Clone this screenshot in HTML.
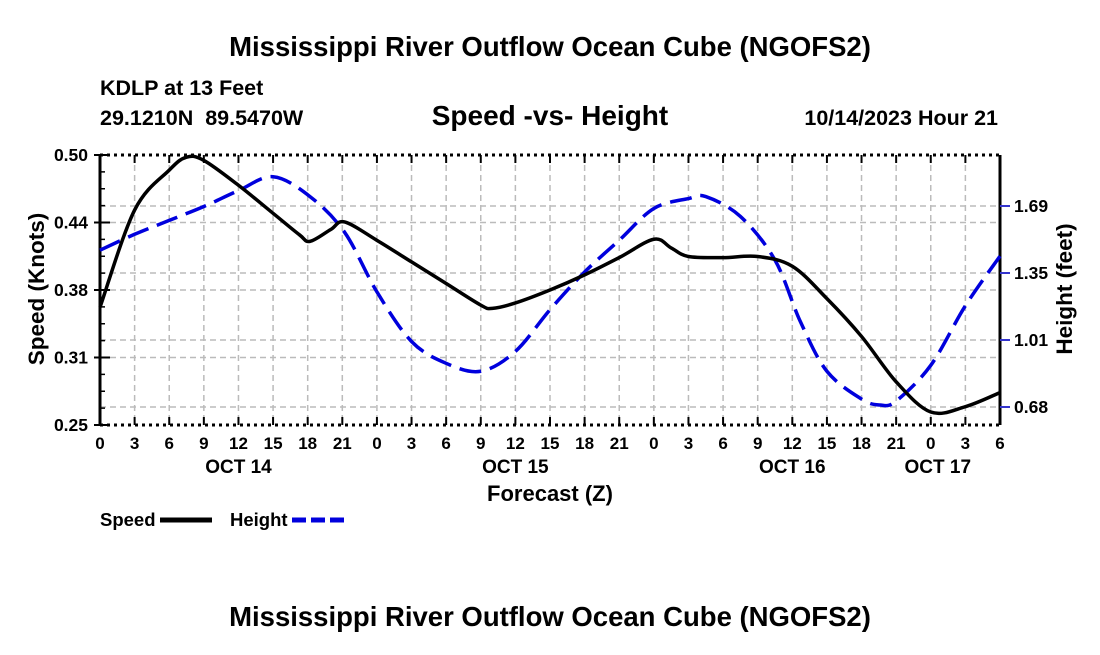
<!DOCTYPE html>
<html><head><meta charset="utf-8"><style>
body{margin:0;background:#fff;}
svg text{font-family:"Liberation Sans",Arial,sans-serif;font-weight:bold;fill:#000;white-space:pre;}
</style></head><body>
<svg id="c" width="1100" height="650" viewBox="0 0 1100 650">
<text x="550" y="56" text-anchor="middle" font-size="27.5">Mississippi River Outflow Ocean Cube (NGOFS2)</text>
<text x="100" y="95" font-size="21.5">KDLP at 13 Feet</text>
<text x="100" y="125" font-size="21.5" xml:space="preserve">29.1210N  89.5470W</text>
<text x="550" y="125" text-anchor="middle" font-size="28">Speed -vs- Height</text>
<text x="998" y="125" text-anchor="end" font-size="21.5">10/14/2023 Hour 21</text>
<g id="grid"></g>
<g id="axes"></g>
<g id="series"></g>
<text x="550" y="501" text-anchor="middle" font-size="22">Forecast (Z)</text>
<text transform="translate(44,289) rotate(-90)" text-anchor="middle" font-size="22.5">Speed (Knots)</text>
<text transform="translate(1072,289) rotate(-90)" text-anchor="middle" font-size="22.5">Height (feet)</text>
<g>
<text x="100" y="526" font-size="18.5">Speed</text>
<line x1="160" y1="520" x2="212" y2="520" stroke="#000" stroke-width="5"/>
<text x="230" y="526" font-size="18.5">Height</text>
<line x1="292" y1="520" x2="344" y2="520" stroke="#0000dd" stroke-width="5" stroke-dasharray="14,5"/>
</g>
<text x="550" y="626" text-anchor="middle" font-size="27.5">Mississippi River Outflow Ocean Cube (NGOFS2)</text>
</svg>
<script>
const speedHours=[0,3,6,7.5,9,12,15,17.3,18.2,20,21.2,24,27,30,33,34,36,39,42,45,48,49.5,51,54,57,60,63,66,69,72,75,78];
const speedVals=[0.359,0.449,0.486,0.498,0.495,0.472,0.446,0.426,0.420,0.431,0.438,0.421,0.401,0.381,0.361,0.358,0.363,0.375,0.389,0.405,0.422,0.414,0.406,0.405,0.406,0.397,0.367,0.332,0.290,0.262,0.267,0.280];
const heightHours=[0,3,6,9,12,15,18.2,21.2,24,27,30,33,36,39,42,45,48,51,52.5,55.5,58.5,60.7,63,66,67.6,69,72,75,78];
const heightVals=[1.47,1.55,1.62,1.69,1.77,1.84,1.74,1.56,1.26,1.01,0.90,0.86,0.96,1.17,1.36,1.52,1.68,1.73,1.74,1.64,1.42,1.11,0.86,0.72,0.69,0.71,0.89,1.19,1.44];
const xTickLabels=["0","3","6","9","12","15","18","21","0","3","6","9","12","15","18","21","0","3","6","9","12","15","18","21","0","3","6"];
const dayLabels=["OCT 14","OCT 15","OCT 16","OCT 17"];
const dayHours=[12,36,60,72];
const speedTicks=[0.25,0.3125,0.375,0.4375,0.5];
const speedTickLabels=["0.25","0.31","0.38","0.44","0.50"];
const heightTicks=[0.68,1.0175,1.355,1.6925];
const heightTickLabels=["0.68","1.01","1.35","1.69"];
const X0=100,X1=1000,Y0=425,Y1=155,H0=0,H1=78;
const x=h=>X0+(h-H0)/(H1-H0)*(X1-X0);
const ys=v=>Y0-(v-0.25)/(0.25)*(Y0-Y1);
const yh=v=>407-(v-0.68)*(201/1.0125);
const NS="http://www.w3.org/2000/svg";
function mk(t,a,p){const e=document.createElementNS(NS,t);for(const k in a)e.setAttribute(k,a[k]);p.appendChild(e);return e;}
const grid=document.getElementById('grid'),axes=document.getElementById('axes'),ser=document.getElementById('series');
for(let i=1;i<xTickLabels.length-1;i++){const l=mk('line',{x1:x(i*3),x2:x(i*3),y1:Y1,y2:Y0,stroke:'#bbb','stroke-width':1.5,'stroke-dasharray':'6,4'},grid);

}
speedTicks.slice(1,-1).forEach(v=>{const l=mk('line',{x1:X0,x2:X1,y1:ys(v),y2:ys(v),stroke:'#bbb','stroke-width':1.5,'stroke-dasharray':'6,4'},grid);

});
heightTicks.forEach(v=>{const l=mk('line',{x1:X0,x2:X1,y1:yh(v),y2:yh(v),stroke:'#bbb','stroke-width':1.5,'stroke-dasharray':'6,4'},grid);

});
mk('line',{x1:X0,x2:X0,y1:Y1,y2:Y0,stroke:'#000','stroke-width':3},axes);
mk('line',{x1:X1,x2:X1,y1:Y1,y2:Y0,stroke:'#000','stroke-width':3},axes);
mk('line',{x1:X0,x2:X1,y1:Y0,y2:Y0,stroke:'#000','stroke-width':3,'stroke-dasharray':'3,4'},axes);
mk('line',{x1:X0,x2:X1,y1:Y1,y2:Y1,stroke:'#000','stroke-width':3,'stroke-dasharray':'3,4'},axes);
xTickLabels.forEach((t,i)=>{const xx=x(i*3);
mk('line',{x1:xx,x2:xx,y1:Y0,y2:Y0-8,stroke:'#000','stroke-width':2},axes);
mk('line',{x1:xx,x2:xx,y1:Y1,y2:Y1+8,stroke:'#000','stroke-width':2},axes);
const tx=mk('text',{x:xx,y:449,'text-anchor':'middle','font-size':17},axes);tx.textContent=t;

});
dayLabels.forEach((d,i)=>{const tx=mk('text',{x:x(dayHours[i])+(i==3?7:0),y:473,'text-anchor':'middle','font-size':19},axes);tx.textContent=d;

});
for(let v=0.25;v<=0.5001;v+=0.0625/4){mk('line',{x1:X0,x2:X0+5,y1:ys(v),y2:ys(v),stroke:'#000','stroke-width':1.5},axes);}
speedTicks.forEach((v,i)=>{mk('line',{x1:X0-6,x2:X0+10,y1:ys(v),y2:ys(v),stroke:'#000','stroke-width':2},axes);
const tx=mk('text',{x:X0-12,y:ys(v)+6,'text-anchor':'end','font-size':17.5},axes);tx.textContent=speedTickLabels[i];

});
heightTicks.forEach((v,i)=>{mk('line',{x1:X1,x2:X1+10,y1:yh(v),y2:yh(v),stroke:'#3333cc','stroke-width':2},axes);
const tx=mk('text',{x:X1+14,y:yh(v)+6,'font-size':17.5},axes);tx.textContent=heightTickLabels[i];

});
function smooth(pts){let d=`M${pts[0][0]},${pts[0][1]}`;for(let i=0;i<pts.length-1;i++){const p0=pts[i-1]||pts[i],p1=pts[i],p2=pts[i+1],p3=pts[i+2]||p2;
d+=` C${p1[0]+(p2[0]-p0[0])/6},${p1[1]+(p2[1]-p0[1])/6} ${p2[0]-(p3[0]-p1[0])/6},${p2[1]-(p3[1]-p1[1])/6} ${p2[0]},${p2[1]}`;}return d;}
const hp=mk('path',{d:smooth(heightHours.map((h,i)=>[x(h),yh(heightVals[i])])),fill:'none',stroke:'#0000dd','stroke-width':3.5,'stroke-dasharray':'22,9'},ser);


const sp=mk('path',{d:smooth(speedHours.map((h,i)=>[x(h),ys(speedVals[i])])),fill:'none',stroke:'#000','stroke-width':3.5},ser);


</script>
</body></html>
